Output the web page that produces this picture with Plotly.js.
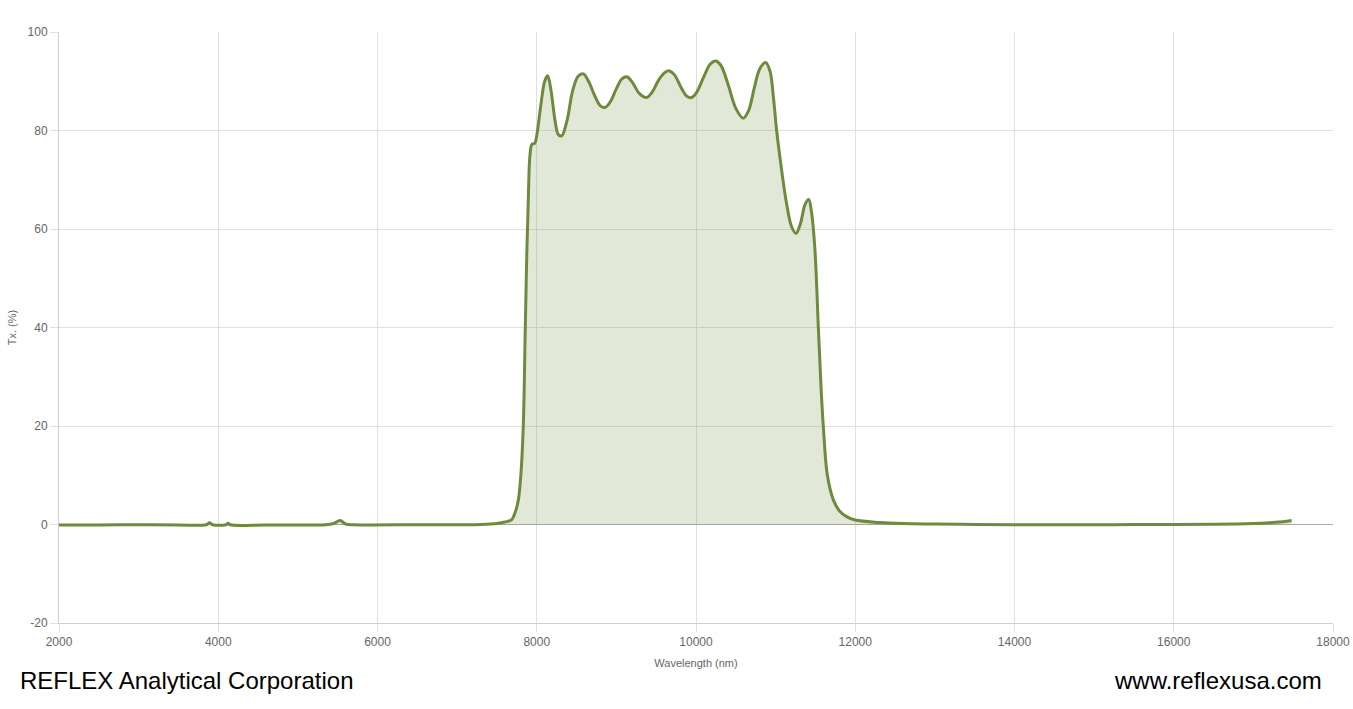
<!DOCTYPE html>
<html>
<head>
<meta charset="utf-8">
<script src="https://cdn.plot.ly/plotly-3.0.1.min.js"></script>
<style>
  html, body { margin: 0; padding: 0; background: #fff; }
  #chart { width: 1353px; height: 709px; }
</style>
</head>
<body>
<div id="chart"></div>
<script>
// Wavelength (nm)
const wavelength = [
  2000, 2500, 3000, 3500, 3850, 3890, 3930, 4100, 4125, 4150, 4600, 5000, 5350, 5450, 5530, 5600, 5700,
  6500, 7000, 7300, 7500, 7600, 7686, 7730, 7769, 7800, 7831, 7856, 7875, 7894, 7915, 7940, 7975,
  8000, 8050, 8100, 8137, 8180, 8230, 8270, 8313, 8380, 8450, 8520, 8585, 8650, 8730, 8800, 8861,
  8930, 9000, 9070, 9133, 9200, 9290, 9381, 9450, 9540, 9610, 9665, 9730, 9820, 9890, 9946,
  10010, 10100, 10180, 10247, 10310, 10400, 10500, 10594, 10660, 10730, 10800, 10875, 10930, 10971,
  11012, 11075, 11137, 11200, 11256, 11310, 11370, 11415, 11450, 11494, 11536, 11570, 11599, 11650,
  11725, 11800, 11892, 12000, 12310, 12600, 13000, 13500, 14000, 14500, 15000, 15500, 16000, 16500,
  17000, 17200, 17400, 17480
];
// Transmission Tx. (%)
const transmission = [
  -0.1, -0.1, -0.05, -0.1, -0.05, 0.35, -0.05, -0.05, 0.25, -0.05, -0.1, -0.1, -0.05, 0.2, 0.8, 0.1, -0.05,
  -0.05, -0.05, 0.0, 0.2, 0.5, 1.0, 2.5, 5, 10, 20, 40, 55, 66, 75, 77.2, 77.4,
  79, 85, 90, 91.1, 88, 82, 79.2, 78.9, 82, 88, 91, 91.5, 90, 87, 85, 84.7,
  86, 88.5, 90.5, 90.9, 89.8, 87.5, 86.7, 87.8, 90.5, 91.8, 92.1, 91.3, 88.5, 86.9, 86.7,
  87.8, 91, 93.5, 94.1, 93.3, 89.5, 84.5, 82.5, 84, 88.5, 92.5, 93.8, 92, 86.9,
  80.1, 72, 65.2, 60.5, 59.1, 61, 65, 66.0, 63.5, 55.7, 40.2, 28, 19.9, 10,
  5, 2.8, 1.6, 0.9, 0.4, 0.2, 0.1, 0.0, -0.05, -0.05, -0.05, 0.0, 0.0, 0.05,
  0.2, 0.35, 0.6, 0.8
];
const xTicks = [2000, 4000, 6000, 8000, 10000, 12000, 14000, 16000, 18000];
const yTicks = [-20, 0, 20, 40, 60, 80, 100];

const trace = {
  x: wavelength,
  y: transmission,
  type: 'scatter',
  mode: 'lines',
  line: { color: '#6e8b3d', width: 3, shape: 'spline', smoothing: 1 },
  fill: 'tozeroy',
  fillcolor: 'rgba(110,139,61,0.2)',
  hoverinfo: 'x+y'
};

const axisFont = { family: 'Liberation Sans, Arial, sans-serif', size: 12, color: '#666' };

const layout = {
  width: 1353,
  height: 709,
  margin: { l: 59, r: 20, t: 32, b: 86 },
  paper_bgcolor: '#fff',
  plot_bgcolor: '#fff',
  showlegend: false,
  font: { family: 'Liberation Sans, Arial, sans-serif', color: '#666' },
  xaxis: {
    range: [2000, 18000],
    tickvals: xTicks,
    ticktext: xTicks.map(String),
    tickfont: axisFont,
    ticks: 'outside',
    ticklen: 8,
    tickcolor: '#e0e0e0',
    showgrid: true,
    gridcolor: '#e0e0e0',
    gridwidth: 1,
    zeroline: false,
    showline: true,
    linecolor: '#d0d0d0',
    mirror: false,
    title: { text: 'Wavelength (nm)', font: { family: 'Liberation Sans, Arial, sans-serif', size: 11, color: '#666' }, standoff: 10 },
    fixedrange: true
  },
  yaxis: {
    range: [-20, 100],
    tickvals: yTicks,
    ticktext: yTicks.map(String),
    tickfont: axisFont,
    ticks: 'outside',
    ticklen: 8,
    tickcolor: '#e0e0e0',
    showgrid: true,
    gridcolor: '#e0e0e0',
    gridwidth: 1,
    zeroline: true,
    zerolinecolor: '#a8a8a8',
    zerolinewidth: 1,
    showline: true,
    linecolor: '#d0d0d0',
    title: { text: 'Tx. (%)', font: { family: 'Liberation Sans, Arial, sans-serif', size: 11, color: '#666' }, standoff: 8 },
    fixedrange: true
  },
  annotations: [
    {
      text: 'REFLEX Analytical Corporation',
      xref: 'paper', yref: 'paper',
      x: -0.0322, y: -0.098,
      xanchor: 'left', yanchor: 'middle',
      showarrow: false,
      font: { family: 'Liberation Sans, Arial, sans-serif', size: 24, color: '#000' }
    },
    {
      text: 'www.reflexusa.com',
      xref: 'paper', yref: 'paper',
      x: 0.9930, y: -0.098,
      xanchor: 'right', yanchor: 'middle',
      showarrow: false,
      font: { family: 'Liberation Sans, Arial, sans-serif', size: 24, color: '#000' }
    }
  ]
};

Plotly.newPlot('chart', [trace], layout, { displayModeBar: false, staticPlot: true });
</script>
</body>
</html>
